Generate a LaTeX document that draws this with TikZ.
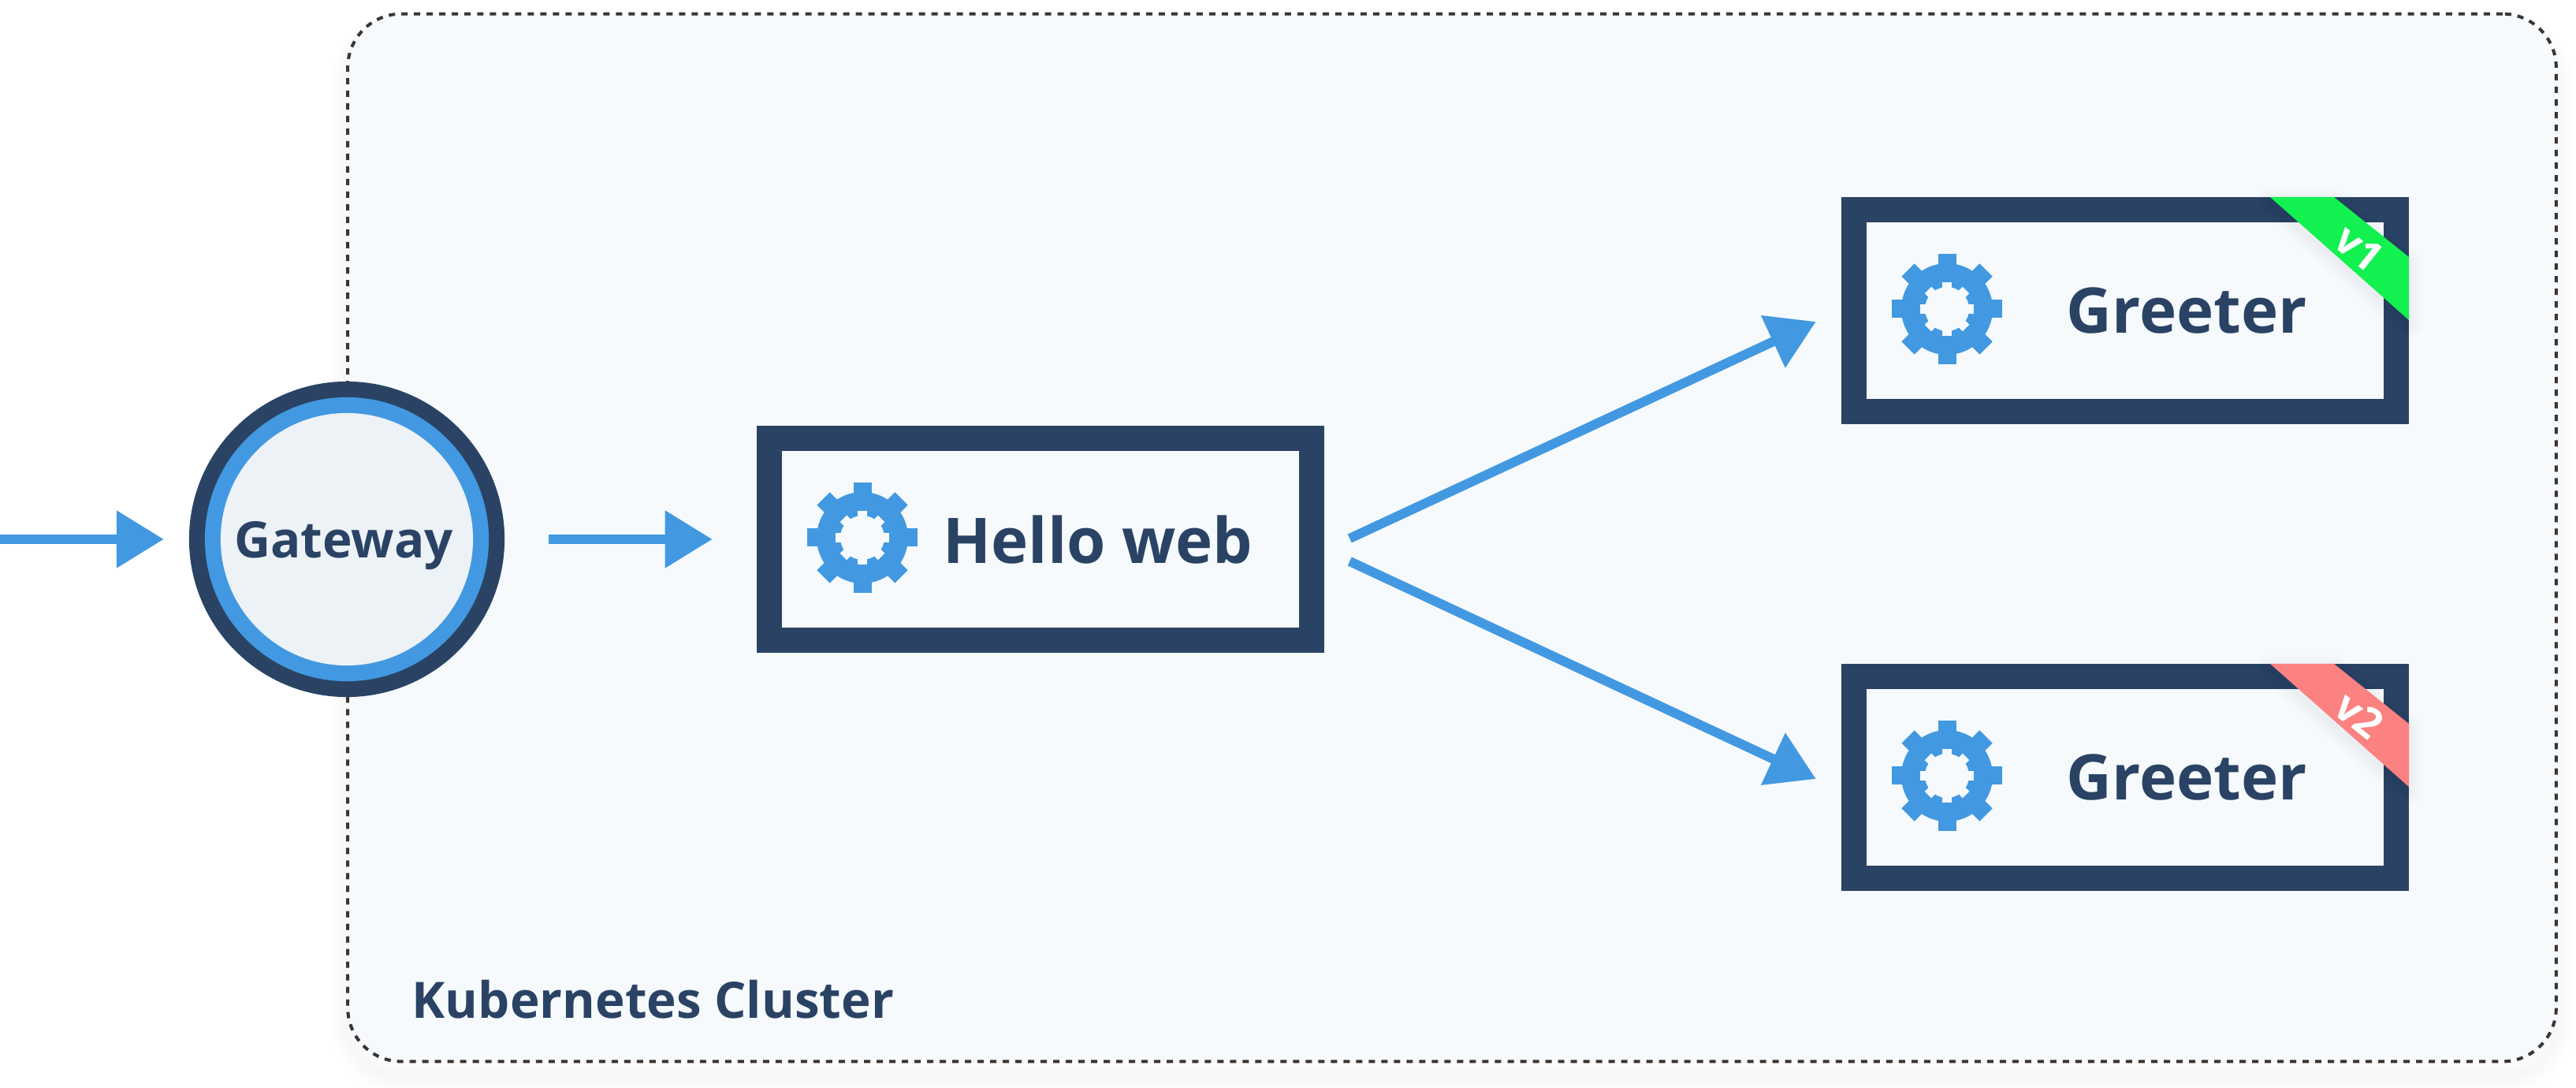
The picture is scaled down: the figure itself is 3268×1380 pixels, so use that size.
\documentclass[tikz,border=0pt]{standalone}
\usepackage{fontspec}
\setmainfont{Open Sans}
\usetikzlibrary{arrows.meta}

\definecolor{navy}{HTML}{2A4365}
\definecolor{skyblue}{HTML}{4299E1}
\definecolor{clusterbg}{HTML}{F6FAFD}
\definecolor{gatewaybg}{HTML}{EDF2F7}
\definecolor{dashgrey}{HTML}{3A3533}
\definecolor{ribbongreen}{HTML}{13F150}
\definecolor{ribbonred}{HTML}{FC8181}

\tikzset{
    service/.style={draw=navy, fill=clusterbg, line width=0.32cm, minimum width=6.88cm, minimum height=2.56cm},
    flow/.style={draw=skyblue, line width=0.12cm, -{Triangle[length=0.6cm,width=0.7cm,fill=skyblue]}},
    boxtext/.style={text=navy, inner sep=0pt, font=\fontsize{22.7}{27}\selectfont\bfseries},
    smalltext/.style={text=navy, inner sep=0pt, font=\fontsize{18.1}{22}\selectfont\bfseries},
    ribbontext/.style={text=white, inner sep=0pt, rotate=-38.7, font=\fontsize{15}{16}\selectfont\bfseries},
    gear/.pic={
        \fill[skyblue] (0,0) circle (58);
        \foreach \a in {0,45,...,315} {
            \fill[skyblue, rotate=\a] (50,-11.5) rectangle (70,11.5);
        }
        \fill[clusterbg] (0,0) circle (28);
        \foreach \a in {0,45,...,315} {
            \fill[clusterbg, rotate=\a] (24,-6) rectangle (34,6);
        }
    }
}

\begin{document}
\begin{tikzpicture}[x=0.01cm,y=-0.01cm]
    \useasboundingbox (0,0) rectangle (3268,1380);
    % soft shadow of the cluster
    \foreach \w in {4,10,16,22,28,34,40,46} {
        \draw[black, opacity=0.005, line width=\w*0.01cm, rounded corners=0.68cm] (442,38) rectangle (3242,1366);
    }
    \node[draw=dashgrey, fill=clusterbg, line width=0.04cm, dash pattern=on 0.08cm off 0.08cm, rounded corners=0.68cm, minimum width=28cm, minimum height=13.28cm, outer sep=0pt] at (1842,682) (cluster) {};
    \node[smalltext, anchor=base west] at (522,1292) (clustertext) {Kubernetes Cluster};

    \node[circle, fill=navy, minimum size=4cm, inner sep=0pt, outer sep=0pt] at (440,684) (gateway) {};
    \node[circle, fill=skyblue, minimum size=3.6cm, inner sep=0pt] at (440,684) (gatewayring) {};
    \node[circle, fill=gatewaybg, minimum size=3.2cm, inner sep=0pt] at (440,684) (gatewayinner) {};
    \node[smalltext] at (436,692) (gatewaytext) {Gateway};

    \node[service] at (1320,684) (hello) {};
    \node[service] at (2696,394) (greeterone) {};
    \node[service] at (2696,986) (greetertwo) {};

    \pic at (1094,682) {gear};
    \pic at (2470,392) {gear};
    \pic at (2470,984) {gear};

    \node[boxtext] at (1393,685) (hellotext) {Hello web};
    \node[boxtext] at (2774,394) (greeteronetext) {Greeter};
    \node[boxtext] at (2774,986) (greetertwotext) {Greeter};

    % ribbons, shadow first
    \foreach \y in {250,842} {
        \foreach \w in {4,10,16,22,28,34} {
            \draw[black, opacity=0.007, line width=\w*0.01cm, line join=round] (2880,\y+6) -- (2961,\y+6) -- (3056,\y+82) -- (3056,\y+162) -- cycle;
        }
    }
    \fill[ribbongreen] (2880,250) -- (2961,250) -- (3056,326) -- (3056,406) -- cycle;
    \fill[ribbonred] (2880,842) -- (2961,842) -- (3056,918) -- (3056,998) -- cycle;
    \node[ribbontext] at (2993,315) (versionone) {v1};
    \node[ribbontext] at (2993,907) (versiontwo) {v2};

    \coordinate (entry) at (0,684);
    \draw[flow, shorten >=0.32cm] (entry) -- (gateway);
    \draw[flow, shorten <=0.56cm, shorten >=0.56cm] (gateway) -- (hello);
    \draw[flow] ([shift={(32,-1)}]hello.east) -- ([shift={(-32,14)}]greeterone.west);
    \draw[flow] ([shift={(32,28)}]hello.east) -- ([shift={(-32,2)}]greetertwo.west);
\end{tikzpicture}
\end{document}
